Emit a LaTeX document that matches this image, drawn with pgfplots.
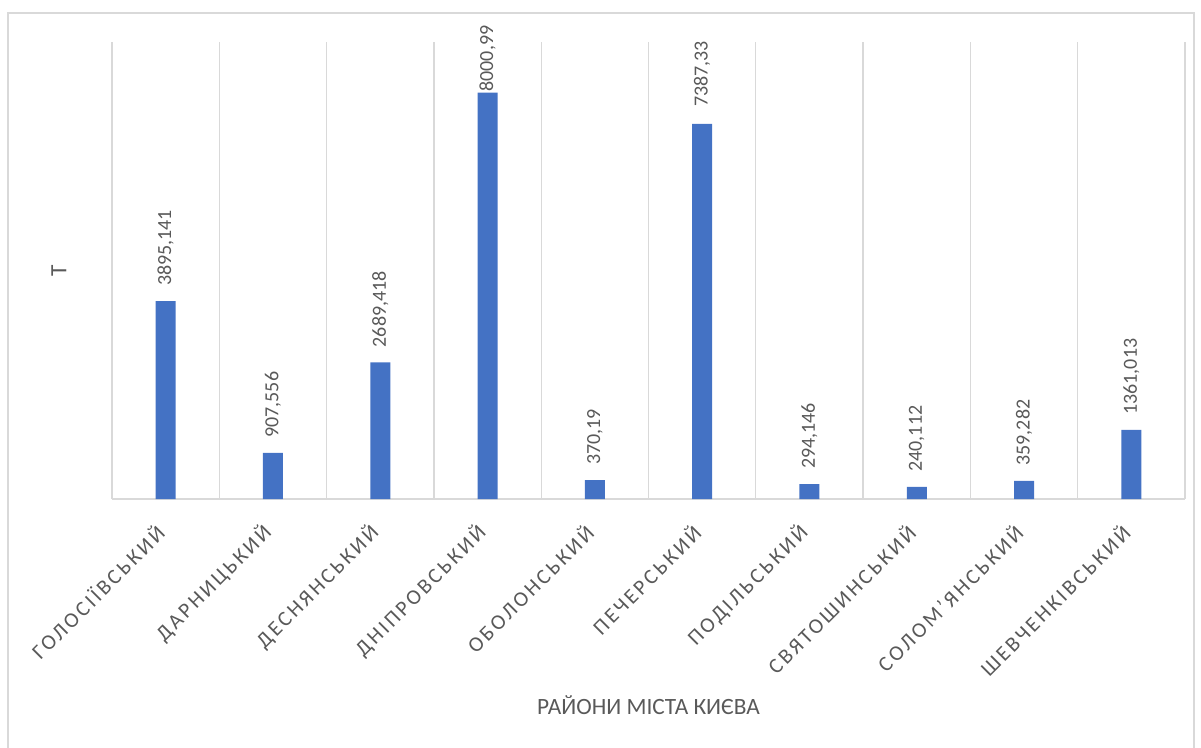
\documentclass[border=0pt]{standalone}
\usepackage{pgfplots}
\pgfplotsset{compat=1.18}
\usepackage{pgfplotstable}
\usepackage{fontspec}
\setmainfont{Carlito}
\newfontfamily\spaced[LetterSpace=13]{Carlito}
\definecolor{barblue}{HTML}{4472C4}
\definecolor{txtgrey}{HTML}{595959}
\definecolor{gridgrey}{HTML}{D9D9D9}

\pgfplotstableread{
x y off label
0 3895.141 11.25 3895,141
1 907.556 11.25 907,556
2 2689.418 11.25 2689,418
3 8000.99 0.75 8000,99
4 370.19 11.25 370,19
5 7387.33 12.5 7387,33
6 294.146 11.25 294,146
7 240.112 11.25 240,112
8 359.282 11.25 359,282
9 1361.013 11.25 1361,013
}\datatable

\begin{document}
\begin{tikzpicture}
\useasboundingbox (0pt,0pt) rectangle (900.75pt,560.25pt);
\draw[gridgrey, line width=1pt] (6pt,-20pt) rectangle (895.5pt,550.5pt);
\begin{axis}[
  at={(84pt,186pt)}, anchor=south west,
  scale only axis, width=804.75pt, height=342.75pt,
  xmin=-0.5, xmax=9.5, ymin=0, ymax=9000,
  axis line style={draw=none},
  ytick=\empty,
  xtick={0,...,9},
  xticklabels={ГОЛОСІЇВСЬКИЙ,ДАРНИЦЬКИЙ,ДЕСНЯНСЬКИЙ,ДНІПРОВСЬКИЙ,ОБОЛОНСЬКИЙ,ПЕЧЕРСЬКИЙ,ПОДІЛЬСЬКИЙ,СВЯТОШИНСЬКИЙ,СОЛОМ’ЯНСЬКИЙ,ШЕВЧЕНКІВСЬКИЙ},
  major tick length=0pt, minor tick length=0pt,
  minor xtick={-0.5,0.5,...,9.5},
  xminorgrids=true,
  minor x grid style={gridgrey, line width=1pt},
  x tick label style={yshift=-20pt, xshift=-1.5pt, rotate=45, anchor=east, font=\spaced\fontsize{16}{16}\selectfont, text=txtgrey},
  xlabel={РАЙОНИ МІСТА КИЄВА},
  xlabel style={at={(axis description cs:0.5,0)}, anchor=center, yshift=-154.5pt, font=\fontsize{17.5}{17.5}\selectfont, text=txtgrey},
  ylabel={Т},
  ylabel style={at={(axis description cs:-0.0494,0.5)}, anchor=center, font=\fontsize{17.5}{17.5}\selectfont, text=txtgrey},
  clip=false,
]
\draw[gridgrey, line width=1pt] (axis cs:-0.5,0) -- (axis cs:9.5,0);
\addplot[ybar, bar width=15pt, fill=barblue, draw=none,
  point meta=explicit symbolic,
  visualization depends on={\thisrow{off}\as\off},
  nodes near coords,
  nodes near coords style={yshift=\off pt, rotate=90, anchor=west, inner sep=0pt, font=\fontsize{15}{15}\selectfont, text=txtgrey},
] table[x=x, y=y, meta=label] {\datatable};
\end{axis}
\end{tikzpicture}
\end{document}
